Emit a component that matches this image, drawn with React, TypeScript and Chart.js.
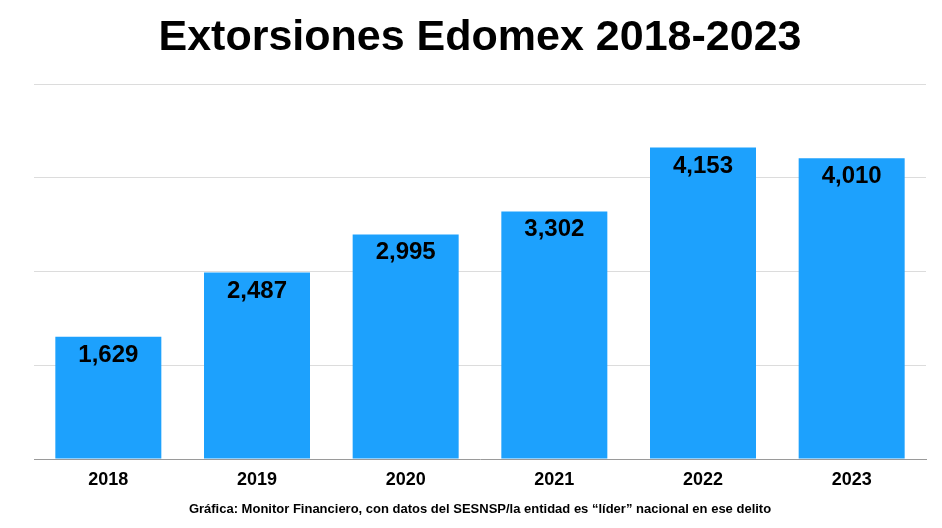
import React, { useEffect, useRef } from "react";
import { Chart, registerables } from "chart.js";

Chart.register(...registerables);

const categories = ["2018", "2019", "2020", "2021", "2022", "2023"];
const values = [1629, 2487, 2995, 3302, 4153, 4010];
const titleText = "Extorsiones Edomex 2018-2023";
const footerText =
  "Gráfica: Monitor Financiero, con datos del SESNSP/la entidad es “líder” nacional en ese delito";
const FONT = "'Liberation Sans', Arial, Helvetica, sans-serif";

const barLabels = {
  id: "barLabels",
  afterDatasetsDraw(chart: any) {
    const ctx = chart.ctx;
    const meta = chart.getDatasetMeta(0);
    ctx.save();
    ctx.font = `bold 24px ${FONT}`;
    ctx.fillStyle = "#000";
    ctx.textAlign = "center";
    ctx.textBaseline = "alphabetic";
    meta.data.forEach((bar: any, i: number) => {
      const v = chart.data.datasets[0].data[i] as number;
      ctx.fillText(v.toLocaleString("en-US"), bar.x, bar.y + 25);
    });
    ctx.restore();
  },
};

export default function App() {
  const ref = useRef<HTMLCanvasElement>(null);
  useEffect(() => {
    const chart = new Chart(ref.current!, {
      type: "bar",
      data: {
        labels: categories,
        datasets: [
          {
            data: values,
            backgroundColor: "#1da1fd",
            borderWidth: 0,
            categoryPercentage: 1,
            barPercentage: 0.713,
          },
        ],
      },
      options: {
        animation: false,
        responsive: false,
        maintainAspectRatio: false,
        layout: { padding: { left: 34, right: 16, top: 0, bottom: 0 } },
        plugins: {
          legend: { display: false },
          tooltip: { enabled: false },
          title: {
            display: true,
            text: titleText,
            color: "#000",
            font: { family: FONT, size: 43, weight: "bold", lineHeight: 1.2 },
            padding: { top: 12.5, bottom: 20 },
          },
          subtitle: {
            display: true,
            position: "bottom",
            text: footerText,
            color: "#000",
            font: { family: FONT, size: 13, weight: "bold", lineHeight: 1.2 },
            padding: { top: 1.4, bottom: 10.4 },
          },
        },
        scales: {
          x: {
            grid: { display: false, drawTicks: false },
            border: { display: true, color: "#9a9a9a", width: 1 },
            ticks: {
              color: "#000",
              padding: 10,
              font: { family: FONT, size: 18, weight: "bold", lineHeight: 1.2 },
            },
          },
          y: {
            min: 0,
            max: 5000,
            ticks: { display: false, stepSize: 1250 },
            border: { display: false },
            grid: {
              drawTicks: false,
              color: (c: any) => (c.tick && c.tick.value === 0 ? "rgba(0,0,0,0)" : "#dcdcdc"),
              lineWidth: 1,
            },
          },
        },
      },
      plugins: [barLabels],
    });
    return () => chart.destroy();
  }, []);
  return (
    <div style={{ position: "fixed", left: 0, top: 0, width: 942, height: 528, background: "#fff" }}>
      <canvas ref={ref} width={942} height={528} style={{ width: 942, height: 528, display: "block" }} />
    </div>
  );
}
